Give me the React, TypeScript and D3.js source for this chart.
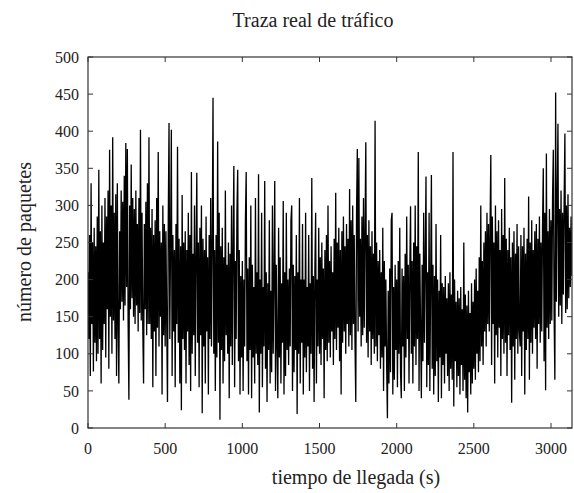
import React from "react";
import * as d3 from "d3";

// Packets per sample, one value every `sampleStep` seconds
const packets: number[] = [
  // 0-95
  210, 120, 260, 70, 330, 140, 250, 76, 270, 115, 245, 90, 285, 100, 348, 120, 265, 60, 300, 105,
  // 100-195
  250, 140, 310, 95, 285, 160, 320, 80, 375, 150, 300, 100, 392, 145, 290, 120, 315, 70, 330, 135,
  // 200-295
  60, 265, 160, 320, 170, 305, 145, 340, 165, 384, 190, 376, 140, 38, 300, 160, 355, 175, 310, 150,
  // 300-395
  295, 140, 320, 165, 275, 130, 310, 155, 402, 145, 290, 135, 60, 275, 160, 305, 125, 330, 140, 392,
  // 400-495
  140, 270, 120, 295, 55, 260, 130, 280, 70, 310, 135, 372, 110, 265, 150, 250, 45, 300, 125, 275,
  // 500-595
  110, 265, 140, 35, 280, 411, 120, 250, 402, 70, 260, 130, 240, 55, 275, 140, 379, 115, 255, 60,
  // 600-695
  245, 24, 314, 120, 250, 105, 265, 60, 240, 130, 290, 85, 260, 50, 345, 100, 235, 125, 300, 70,
  // 700-795
  230, 344, 115, 250, 55, 270, 125, 300, 20, 255, 110, 240, 60, 285, 130, 230, 45, 260, 120, 310,
  // 800-895
  110, 250, 445, 100, 240, 50, 260, 95, 386, 115, 290, 11, 245, 105, 270, 60, 230, 90, 320, 125,
  // 900-995
  220, 100, 250, 40, 235, 110, 300, 85, 245, 353, 55, 225, 120, 290, 348, 90, 240, 45, 205, 95,
  // 1000-1095
  225, 50, 200, 110, 280, 345, 90, 215, 45, 230, 105, 300, 40, 220, 95, 190, 60, 310, 100, 210,
  // 1100-1195
  85, 342, 21, 200, 100, 290, 55, 190, 110, 333, 80, 210, 35, 195, 105, 280, 60, 185, 75, 300,
  // 1200-1295
  100, 205, 333, 50, 220, 110, 40, 270, 95, 230, 60, 195, 115, 306, 45, 210, 70, 290, 105, 200,
  // 1300-1395
  85, 215, 110, 280, 300, 50, 220, 75, 205, 105, 260, 19, 210, 100, 310, 60, 200, 115, 275, 45,
  // 1400-1495
  200, 95, 290, 75, 190, 110, 260, 50, 195, 100, 337, 80, 205, 35, 215, 290, 60, 200, 110, 270,
  // 1500-1595
  100, 230, 85, 250, 120, 215, 40, 240, 105, 260, 90, 300, 115, 225, 95, 245, 130, 210, 85, 255,
  // 1600-1695
  120, 317, 105, 250, 135, 270, 90, 240, 45, 265, 115, 285, 130, 245, 100, 275, 140, 255, 110, 322,
  // 1700-1795
  125, 280, 105, 300, 140, 260, 115, 35, 290, 376, 130, 364, 150, 255, 110, 285, 125, 310, 135, 265,
  // 1800-1895
  385, 115, 260, 95, 280, 130, 245, 85, 265, 120, 235, 100, 414, 110, 250, 90, 225, 125, 240, 80,
  // 1900-1995
  210, 95, 270, 50, 225, 110, 200, 85, 13, 185, 60, 215, 75, 280, 290, 45, 190, 65, 220, 105,
  // 2000-2095
  200, 55, 225, 100, 270, 75, 40, 215, 110, 205, 50, 235, 95, 285, 120, 220, 60, 210, 299, 100,
  // 2100-2195
  225, 60, 250, 110, 300, 85, 245, 120, 372, 50, 235, 130, 40, 220, 90, 290, 115, 225, 339, 55,
  // 2200-2295
  210, 85, 290, 50, 195, 341, 80, 220, 45, 205, 70, 275, 90, 200, 35, 185, 95, 260, 40, 195,
  // 2300-2395
  85, 190, 60, 205, 100, 175, 70, 195, 50, 210, 80, 180, 65, 372, 29, 200, 90, 170, 55, 185,
  // 2400-2495
  70, 175, 45, 190, 85, 160, 50, 250, 65, 180, 40, 165, 21, 185, 75, 155, 45, 195, 60, 170,
  // 2500-2595
  80, 200, 65, 215, 100, 185, 75, 230, 90, 300, 110, 225, 85, 250, 130, 265, 110, 290, 140, 275,
  // 2600-2695
  130, 270, 368, 85, 285, 140, 250, 60, 300, 125, 265, 95, 280, 135, 240, 70, 295, 120, 260, 100,
  // 2700-2795
  337, 115, 255, 70, 240, 125, 270, 105, 230, 34, 250, 110, 265, 65, 235, 120, 275, 100, 245, 130,
  // 2800-2895
  110, 260, 70, 245, 130, 270, 45, 235, 105, 255, 120, 312, 65, 250, 115, 280, 100, 240, 135, 265,
  // 2900-2995
  120, 275, 80, 255, 140, 285, 115, 250, 130, 270, 350, 90, 290, 51, 370, 135, 265, 120, 295, 140,
  // 3000-3095
  280, 145, 310, 375, 155, 65, 452, 170, 305, 410, 150, 295, 165, 320, 140, 290, 180, 305, 397, 155,
  // 3100-3135
  300, 160, 315, 175, 270, 190, 285, 205,
];
const sampleStep = 5;

const xTicks = [0, 500, 1000, 1500, 2000, 2500, 3000];
const yTicks = [0, 50, 100, 150, 200, 250, 300, 350, 400, 450, 500];
const xDomain: [number, number] = [0, 3136];
const yDomain: [number, number] = [0, 500];

const title = "Traza real de tráfico";
const xLabel = "tiempo de llegada (s)";
const yLabel = "número de paquetes";

const W = 574;
const H = 493;
const M = { left: 88, right: 572, top: 57, bottom: 428 };
const FONT = "'Liberation Serif', 'DejaVu Serif', serif";

export default function App() {
  const x = d3.scaleLinear().domain(xDomain).range([M.left, M.right]);
  const y = d3.scaleLinear().domain(yDomain).range([M.bottom, M.top]);
  const line = d3
    .line<number>()
    .x((_, i) => x(i * sampleStep))
    .y((d) => y(d));
  const tickLen = 5;

  return (
    <svg
      width={W}
      height={H}
      style={{ position: "absolute", left: 0, top: 0, background: "#fff" }}
      fontFamily={FONT}
    >
      <rect x={0} y={0} width={W} height={H} fill="#fff" />
      <defs>
        <clipPath id="plot">
          <rect x={M.left} y={M.top} width={M.right - M.left} height={M.bottom - M.top} />
        </clipPath>
      </defs>
      <path
        d={line(packets) || ""}
        fill="none"
        stroke="#000"
        strokeWidth={1.3}
        strokeLinejoin="miter"
        clipPath="url(#plot)"
      />
      {/* frame */}
      <rect
        x={M.left}
        y={M.top}
        width={M.right - M.left}
        height={M.bottom - M.top}
        fill="none"
        stroke="#333"
        strokeWidth={1.2}
      />
      {/* y ticks */}
      {yTicks.map((t) => (
        <g key={"y" + t}>
          <line x1={M.left} x2={M.left + tickLen} y1={y(t)} y2={y(t)} stroke="#333" strokeWidth={1} />
          <line x1={M.right} x2={M.right - tickLen} y1={y(t)} y2={y(t)} stroke="#333" strokeWidth={1} />
          <text
            x={M.left - 9}
            y={y(t)}
            dy="0.35em"
            textAnchor="end"
            fontSize={16}
            fill="#222"
          >
            {t}
          </text>
        </g>
      ))}
      {/* x ticks */}
      {xTicks.map((t) => (
        <g key={"x" + t}>
          <line x1={x(t)} x2={x(t)} y1={M.bottom} y2={M.bottom - tickLen} stroke="#333" strokeWidth={1} />
          <line x1={x(t)} x2={x(t)} y1={M.top} y2={M.top + tickLen} stroke="#333" strokeWidth={1} />
          <text x={x(t)} y={M.bottom + 26} textAnchor="middle" fontSize={16} fill="#222">
            {t}
          </text>
        </g>
      ))}
      <text x={313} y={27} textAnchor="middle" fontSize={20} fill="#222">
        {title}
      </text>
      <text x={356} y={484} textAnchor="middle" fontSize={20} fill="#222">
        {xLabel}
      </text>
      <text
        transform={`translate(31,242) rotate(-90)`}
        textAnchor="middle"
        fontSize={20}
        fill="#222"
      >
        {yLabel}
      </text>
    </svg>
  );
}
